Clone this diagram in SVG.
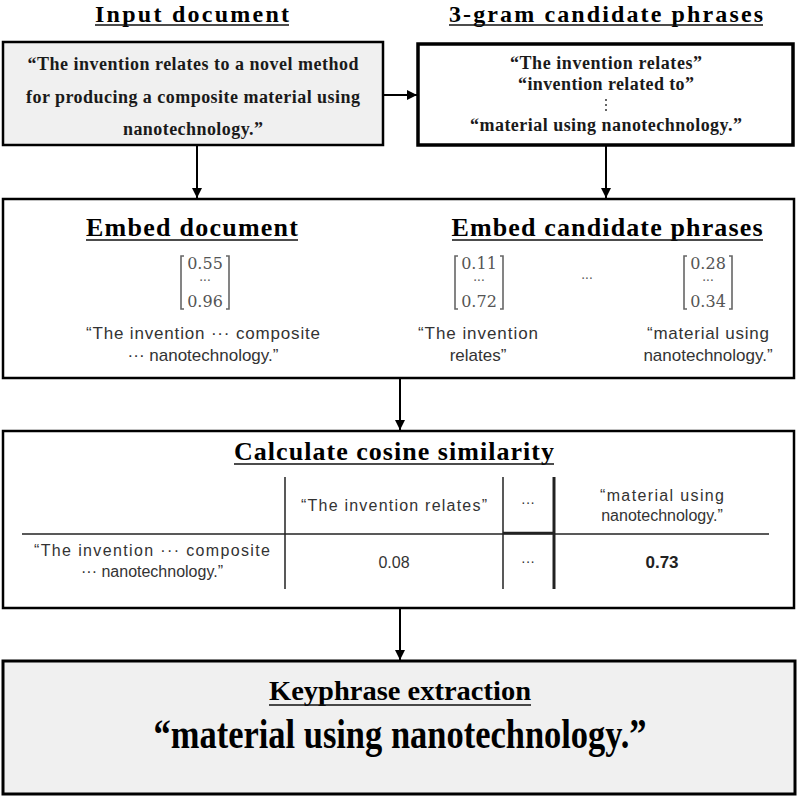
<svg xmlns="http://www.w3.org/2000/svg" width="800" height="800" viewBox="0 0 800 800">
<defs>
<marker id="ah" viewBox="0 0 10 10" refX="10" refY="5" markerWidth="10" markerHeight="10" markerUnits="userSpaceOnUse" orient="auto">
<path d="M0,0 L10,5 L0,10 Z" fill="#000"/>
</marker>
</defs>
<style>
.title{font-family:"Liberation Serif","Times New Roman",serif;font-weight:bold;font-size:26px;fill:#000;text-anchor:middle}
.ul{stroke:#111;stroke-width:1.5}
.bs{font-family:"Liberation Serif","Times New Roman",serif;font-weight:bold;font-size:18px;fill:#1a1a1a;text-anchor:middle}
.sans{font-family:"Liberation Sans",Arial,sans-serif;font-size:17px;fill:#333;text-anchor:middle}
.tab{font-family:"Liberation Sans",Arial,sans-serif;font-size:16px;fill:#333;text-anchor:middle}
.mat{font-family:"DejaVu Serif",serif;font-size:16px;fill:#555;text-anchor:middle}
.dots{font-family:"DejaVu Serif",serif;font-size:12px;fill:#555;text-anchor:middle}
.br{fill:none;stroke:#666;stroke-width:1.6}
.conn{stroke:#000;stroke-width:2;fill:none;marker-end:url(#ah)}
</style>

<g id="input-title">
<text class="title" x="192" y="22" style="font-size:24px" textLength="194" lengthAdjust="spacing">Input document</text>
<line class="ul" x1="95" y1="25" x2="289" y2="25"/>
</g>
<g id="ngram-title">
<text class="title" x="606" y="22" style="font-size:24px" textLength="314" lengthAdjust="spacing">3-gram candidate phrases</text>
<line class="ul" x1="449" y1="25" x2="763" y2="25"/>
</g>

<g id="input-doc">
<rect x="3" y="42" width="380" height="103" fill="#f0f0f0" stroke="#000" stroke-width="2.5"/>
<text class="bs" x="193" y="70" textLength="331" lengthAdjust="spacing">“The invention relates to a novel method</text>
<text class="bs" x="193" y="103" textLength="334" lengthAdjust="spacing">for producing a composite material using</text>
<text class="bs" x="193" y="135" textLength="140" lengthAdjust="spacing">nanotechnology.”</text>
</g>

<g id="candidates">
<rect x="418" y="44" width="375" height="101" fill="#fff" stroke="#000" stroke-width="3.5"/>
<text class="bs" x="606" y="69" textLength="192" lengthAdjust="spacing">“The invention relates”</text>
<text class="bs" x="606" y="90" textLength="176" lengthAdjust="spacing">“invention related to”</text>
<g fill="#333"><circle cx="606" cy="100" r="1"/><circle cx="606" cy="105" r="1"/><circle cx="606" cy="110" r="1"/></g>
<text class="bs" x="606" y="131" textLength="272" lengthAdjust="spacing">“material using nanotechnology.”</text>
</g>

<g id="embed">
<rect x="3" y="199" width="791" height="179" fill="#fff" stroke="#000" stroke-width="2.5"/>
<text class="title" x="192" y="236" textLength="212" lengthAdjust="spacing">Embed document</text>
<line class="ul" x1="86" y1="240" x2="298" y2="240"/>
<text class="title" x="607" y="236" textLength="311" lengthAdjust="spacing">Embed candidate phrases</text>
<line class="ul" x1="452" y1="240" x2="763" y2="240"/>

<path class="br" d="M184,256 H181 V309 H184 M226,256 H229 V309 H226"/>
<text class="mat" x="205" y="269">0.55</text>
<text class="dots" x="205" y="285">···</text>
<text class="mat" x="205" y="307">0.96</text>

<path class="br" d="M458,256 H455 V309 H458 M500,256 H503 V309 H500"/>
<text class="mat" x="479" y="269">0.11</text>
<text class="dots" x="479" y="285">···</text>
<text class="mat" x="479" y="307">0.72</text>

<text class="dots" x="587" y="283">···</text>

<path class="br" d="M687,256 H684 V309 H687 M729,256 H732 V309 H729"/>
<text class="mat" x="708" y="269">0.28</text>
<text class="dots" x="708" y="285">···</text>
<text class="mat" x="708" y="307">0.34</text>

<text class="sans" x="203" y="339" textLength="234" lengthAdjust="spacing">“The invention ··· composite</text>
<text class="sans" x="203" y="361">··· nanotechnology.”</text>
<text class="sans" x="478" y="339" textLength="120" lengthAdjust="spacing">“The invention</text>
<text class="sans" x="478" y="361">relates”</text>
<text class="sans" x="708" y="339" textLength="122" lengthAdjust="spacing">“material using</text>
<text class="sans" x="708" y="361">nanotechnology.”</text>
</g>

<g id="cosine">
<rect x="3" y="431" width="791" height="177" fill="#fff" stroke="#000" stroke-width="2.5"/>
<text class="title" x="394" y="460" textLength="320" lengthAdjust="spacing">Calculate cosine similarity</text>
<line class="ul" x1="234" y1="464" x2="554" y2="464"/>
<line x1="22" y1="534" x2="769" y2="534" stroke="#222" stroke-width="1.5"/>
<line x1="503" y1="533" x2="554" y2="533" stroke="#222" stroke-width="2.5"/>
<line x1="285" y1="477" x2="285" y2="589" stroke="#222" stroke-width="1.5"/>
<line x1="503" y1="477" x2="503" y2="589" stroke="#222" stroke-width="1.5"/>
<line x1="554" y1="477" x2="554" y2="589" stroke="#222" stroke-width="3"/>
<text class="tab" x="394" y="511" textLength="186" lengthAdjust="spacing">“The invention relates”</text>
<text class="tab" x="528" y="507" style="font-size:14px">···</text>
<text class="tab" x="662" y="501" textLength="124" lengthAdjust="spacing">“material using</text>
<text class="tab" x="662" y="521">nanotechnology.”</text>
<text class="tab" x="152" y="556" textLength="236" lengthAdjust="spacing">“The invention ··· composite</text>
<text class="tab" x="152" y="577">··· nanotechnology.”</text>
<text class="tab" x="394" y="568">0.08</text>
<text class="tab" x="528" y="566" style="font-size:14px">···</text>
<text class="tab" x="662" y="568" style="font-size:17px;font-weight:bold;fill:#222">0.73</text>
</g>

<g id="keyphrase">
<rect x="3" y="661" width="792" height="133" fill="#f0f0f0" stroke="#000" stroke-width="3"/>
<text class="title" x="400" y="700" style="font-size:28px" textLength="262" lengthAdjust="spacingAndGlyphs">Keyphrase extraction</text>
<line class="ul" x1="269" y1="705" x2="531" y2="705"/>
<text class="title" x="400" y="748" style="font-size:42px" textLength="493" lengthAdjust="spacingAndGlyphs">“material using nanotechnology.”</text>
</g>

<g id="connectors">
<line class="conn" x1="383" y1="95" x2="417" y2="95"/>
<line class="conn" x1="197" y1="146" x2="197" y2="198"/>
<line class="conn" x1="606" y1="146" x2="606" y2="198"/>
<line class="conn" x1="400" y1="379" x2="400" y2="430"/>
<line class="conn" x1="400" y1="609" x2="400" y2="660"/>
</g>
</svg>
